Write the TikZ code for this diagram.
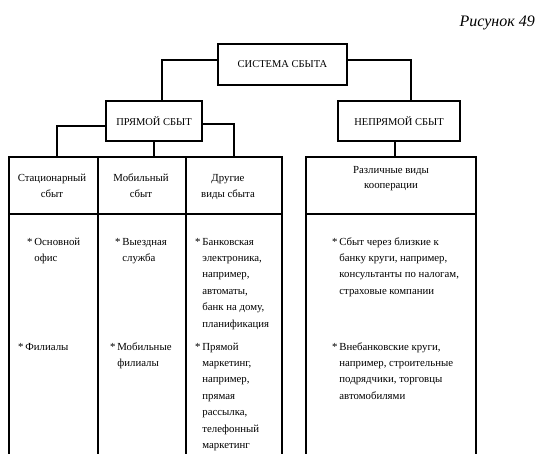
\documentclass[tikz,border=0pt]{standalone}
\usepackage{fontspec}
\setmainfont{Liberation Serif}
\newcommand\itemstar{*\hspace{1.8pt}}
\newcommand\itemgap{\phantom{*}\hspace{1.8pt}}
\begin{document}
\begin{tikzpicture}[x=1pt,y=-1pt,
  frame/.style={draw, line width=2pt, inner sep=0pt, outer sep=0pt},
  conn/.style={line width=2pt},
  boxtxt/.style={font=\fontsize{10.5}{12}\selectfont},
  head/.style={font=\fontsize{10.8}{17}\selectfont, align=center, anchor=base, inner sep=0pt},
  rhead/.style={font=\fontsize{10.8}{15}\selectfont, align=center, anchor=base, inner sep=0pt},
  itemtxt/.style={font=\fontsize{10.8}{16.4}\selectfont, align=left, anchor=base west, inner sep=0pt}]
\useasboundingbox (0,0) rectangle (548,454);
\clip (0,0) rectangle (548,454);
% title
\node[font=\fontsize{16}{18}\selectfont\itshape, anchor=base east, inner sep=0pt] (title) at (535,27) {Рисунок 49};
% boxes
\node[frame, boxtxt, minimum width=129pt, minimum height=41pt] (sys) at (282.5,64.5) {СИСТЕМА СБЫТА};
\node[frame, boxtxt, minimum width=96pt, minimum height=40pt] (dir) at (154,121) {ПРЯМОЙ СБЫТ};
\node[frame, boxtxt, minimum width=122pt, minimum height=40pt] (ind) at (399,121) {НЕПРЯМОЙ СБЫТ};
% table cells
\node[frame, minimum width=89pt, minimum height=57pt] (h1) at (53.5,185.5) {};
\node[frame, minimum width=88pt, minimum height=57pt] (h2) at (142,185.5) {};
\node[frame, minimum width=96pt, minimum height=57pt] (h3) at (234,185.5) {};
\node[frame, minimum width=170pt, minimum height=57pt] (rh) at (391,185.5) {};
\node[frame, minimum width=89pt, minimum height=250pt] (b1) at (53.5,339) {};
\node[frame, minimum width=88pt, minimum height=250pt] (b2) at (142,339) {};
\node[frame, minimum width=96pt, minimum height=250pt] (b3) at (234,339) {};
\node[frame, minimum width=170pt, minimum height=250pt] (rb) at (391,339) {};
% connectors
\draw[conn] ([yshift=4pt]sys.west) -| ([xshift=8pt]dir.north);
\draw[conn] ([yshift=4pt]sys.east) -| ([xshift=12pt]ind.north);
\draw[conn] ([yshift=-5pt]dir.west) -| ([xshift=3.5pt]h1.north);
\draw[conn] (dir.south) -- (dir.south |- h2.north);
\draw[conn] ([yshift=-3pt]dir.east) -| (h3.north);
\draw[conn] ([xshift=-4pt]ind.south) -- ([xshift=-4pt]ind.south |- rh.north);
% header texts (anchor at last line's baseline)
\node[head] (t1) at (52,198) {Стационарный\\сбыт};
\node[head] (t2) at (141,198) {Мобильный\\сбыт};
\node[head] (t3) at (228,198) {Другие\\виды сбыта};
\node[rhead] (t4) at (391,189) {Различные виды\\кооперации};
% items
\node[itemtxt] (i1) at (27,261.4) {\itemstar Основной\\\itemgap офис};
\node[itemtxt] (i2) at (18,350) {\itemstar Филиалы};
\node[itemtxt] (i3) at (115,261.4) {\itemstar Выездная\\\itemgap служба};
\node[itemtxt] (i4) at (110,366.4) {\itemstar Мобильные\\\itemgap филиалы};
\node[itemtxt] (i5) at (195,327) {\itemstar Банковская\\\itemgap электроника,\\\itemgap например,\\\itemgap автоматы,\\\itemgap банк на дому,\\\itemgap планификация};
\node[itemtxt] (i6) at (195,448.4) {\itemstar Прямой\\\itemgap маркетинг,\\\itemgap например,\\\itemgap прямая\\\itemgap рассылка,\\\itemgap телефонный\\\itemgap маркетинг};
\node[itemtxt] (i7) at (332,294.2) {\itemstar Сбыт через близкие к\\\itemgap банку круги, например,\\\itemgap консультанты по налогам,\\\itemgap страховые компании};
\node[itemtxt] (i8) at (332,399.2) {\itemstar Внебанковские круги,\\\itemgap например, строительные\\\itemgap подрядчики, торговцы\\\itemgap автомобилями};
\end{tikzpicture}
\end{document}
